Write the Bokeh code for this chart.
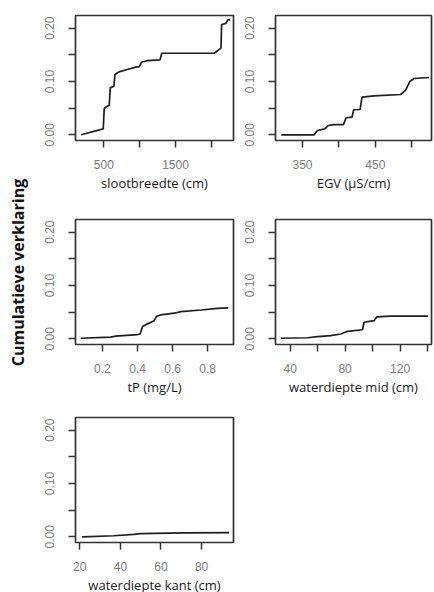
from math import pi
from bokeh.plotting import figure
from bokeh.layouts import row, column
from bokeh.models import FixedTicker, PrintfTickFormatter, Range1d, Label, Spacer
from bokeh.embed import file_html
from bokeh.resources import INLINE

# ---- data ----
sloot_x = [184, 491, 505, 538, 575, 589, 640, 654, 710, 827, 944, 995, 1023, 1107, 1284, 1308, 2040, 2134, 2143, 2204, 2227, 2260]
sloot_y = [0.000, 0.011, 0.049, 0.053, 0.055, 0.088, 0.091, 0.113, 0.118, 0.1225, 0.127, 0.128, 0.136, 0.139, 0.1406, 0.153, 0.153, 0.1625, 0.207, 0.209, 0.215, 0.216]

egv_x = [321, 366, 370.5, 380.6, 385.2, 393.4, 406.2, 409.8, 418, 420.3, 429, 431.7, 448.2, 484.7, 491.5, 497.5, 503, 523.5]
egv_y = [0.000, 0.000, 0.008, 0.011, 0.0175, 0.019, 0.019, 0.032, 0.033, 0.047, 0.0475, 0.0706, 0.073, 0.0756, 0.084, 0.1006, 0.1056, 0.1075]

tp_x = [0.076, 0.247, 0.276, 0.400, 0.415, 0.429, 0.457, 0.495, 0.509, 0.533, 0.609, 0.647, 0.762, 0.857, 0.917]
tp_y = [0.001, 0.003, 0.005, 0.008, 0.009, 0.023, 0.028, 0.034, 0.042, 0.045, 0.048, 0.051, 0.054, 0.057, 0.058]

mid_x = [33.2, 52.6, 59.9, 69.5, 76.8, 81.7, 92.6, 93.8, 101.0, 103.0, 113.2, 140.3]
mid_y = [0.001, 0.002, 0.004, 0.006, 0.009, 0.014, 0.017, 0.031, 0.034, 0.041, 0.0425, 0.0425]

kant_x = [21.2, 36.8, 46.7, 50.0, 71.4, 93.6]
kant_y = [0.000, 0.002, 0.0045, 0.006, 0.0075, 0.0078]

y_major = [0.0, 0.1, 0.2]
y_minor = [0.05, 0.15]

y_title = "Cumulatieve verklaring"

TICK_FONT = "Liberation Sans"
TITLE_FONT = "Open Sans"
FH = 125


def panel(xs, ys, xr, xmajor, xminor, xfmt, xlabel, fw, bl, br, bt, bb):
    p = figure(frame_width=fw, frame_height=FH,
               x_range=Range1d(*xr), y_range=Range1d(-0.0107, 0.2238),
               output_backend="svg", toolbar_location=None,
               min_border_left=bl, min_border_right=br,
               min_border_top=bt, min_border_bottom=bb)
    p.line(xs, ys, line_color="#1e1e1e", line_width=1.7)
    p.grid.visible = False
    p.outline_line_color = "#333333"
    p.outline_line_width = 1.7
    p.outline_line_alpha = 1.0

    p.xaxis.ticker = FixedTicker(ticks=xmajor, minor_ticks=xminor)
    p.xaxis.formatter = PrintfTickFormatter(format=xfmt)
    p.yaxis.ticker = FixedTicker(ticks=y_major, minor_ticks=y_minor)
    p.yaxis.formatter = PrintfTickFormatter(format="%.2f")
    p.yaxis.major_label_orientation = "vertical"

    for ax in (p.xaxis[0], p.yaxis[0]):
        ax.axis_line_color = None
        ax.major_tick_in = 0
        ax.major_tick_out = 7
        ax.minor_tick_in = 0
        ax.minor_tick_out = 7
        ax.major_tick_line_color = "#333333"
        ax.minor_tick_line_color = "#333333"
        ax.major_tick_line_width = 1.5
        ax.minor_tick_line_width = 1.5
        ax.major_label_text_font = TICK_FONT
        ax.major_label_text_font_size = "12px"
        ax.major_label_text_color = "#7a7a7a"
    p.xaxis.major_label_standoff = 12
    p.yaxis.major_label_standoff = 14
    p.xaxis.axis_label = xlabel
    p.xaxis.axis_label_text_font = TITLE_FONT
    p.xaxis.axis_label_text_font_size = "13px"
    p.xaxis.axis_label_text_font_style = "normal"
    p.xaxis.axis_label_text_color = "#1a1a1a"
    p.xaxis.axis_label_standoff = 2
    return p


f1 = panel(sloot_x, sloot_y, (104, 2309), [500, 1500], [1000, 2000], "%d",
           "slootbreedte (cm)", 158, 39, 5, 15, 64)
f2 = panel(egv_x, egv_y, (313, 527), [350, 450], [400, 500], "%d",
           "EGV (µS/cm)", 156, 37, 2, 15, 64)
f3 = panel(tp_x, tp_y, (0.047, 0.947), [0.2, 0.4, 0.6, 0.8], [], "%.1f",
           "tP (mg/L)", 158, 39, 5, 15, 58)
f4 = panel(mid_x, mid_y, (29.3, 142.9), [40, 80, 120], [60, 100, 140], "%d",
           "waterdiepte mid (cm)", 156, 37, 2, 15, 58)
f5 = panel(kant_x, kant_y, (17.9, 95.7), [20, 40, 60, 80], [], "%d",
           "waterdiepte kant (cm)", 158, 39, 5, 15, 46)

H = 204 + 198 + 186
lab = figure(frame_width=36, frame_height=H, x_range=Range1d(0, 1), y_range=Range1d(0, 1),
             x_axis_type=None, y_axis_type=None, output_backend="svg",
             toolbar_location=None, min_border=0)
lab.grid.visible = False
lab.outline_line_color = None
lab.add_layout(Label(x=17, y=H - 272, x_units="screen", y_units="screen",
                     text=y_title, angle=pi / 2, text_align="center",
                     text_baseline="middle", text_font=TITLE_FONT,
                     text_font_style="bold", text_font_size="16px",
                     text_color="#111111"))

grid = column(row(f1, f2), row(f3, f4), row(f5, Spacer(width=195, height=10)))
layout = row(lab, grid)

open("out.html", "w").write(file_html(layout, INLINE))
